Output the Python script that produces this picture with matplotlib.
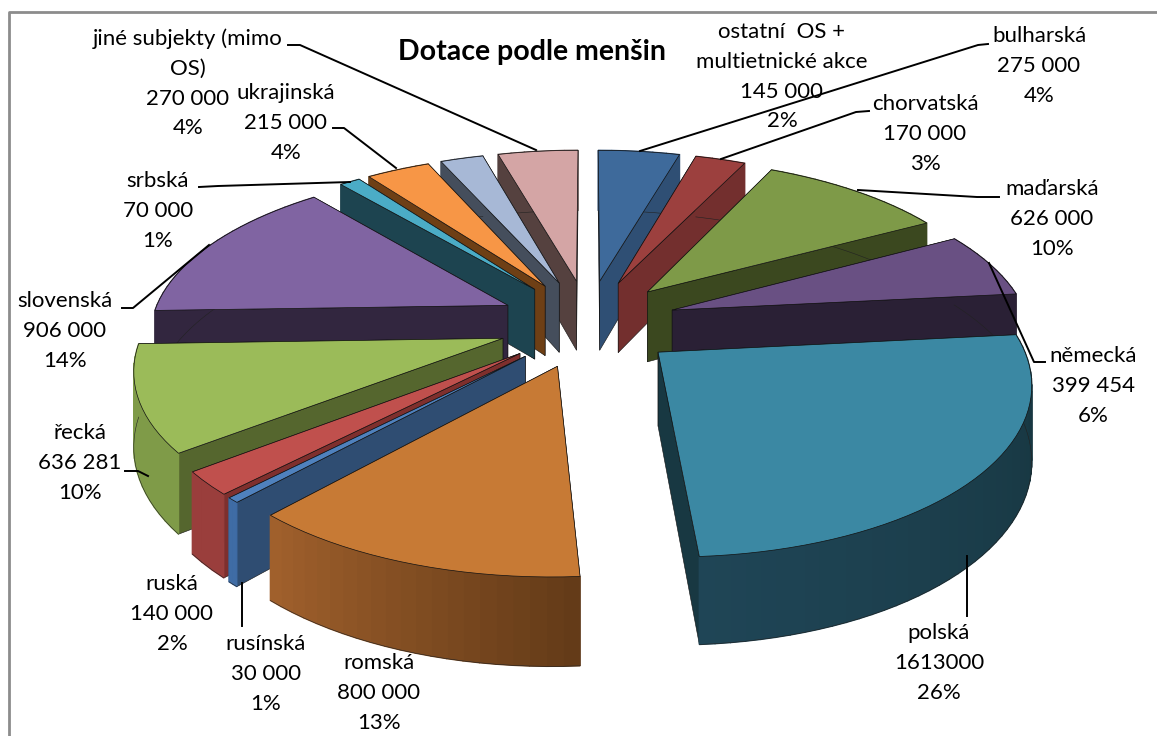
import numpy as np
import matplotlib
matplotlib.use('Agg')
import matplotlib.pyplot as plt
from matplotlib.colors import to_rgb
from matplotlib.patches import Polygon

# data, clockwise from the top of the pie
names = ['bulharská', 'chorvatská', 'maďarská', 'německá', 'polská', 'romská',
         'rusínská', 'ruská', 'řecká', 'slovenská', 'srbská', 'ukrajinská',
         'ostatní  OS +\nmultietnické akce', 'jiné subjekty (mimo\nOS)']
values = [275000, 170000, 626000, 399454, 1613000, 800000, 30000, 140000,
          636281, 906000, 70000, 215000, 145000, 270000]
amounts = ['275 000', '170 000', '626 000', '399 454', '1613000', '800 000', '30 000',
           '140 000', '636 281', '906 000', '70 000', '215 000', '145 000', '270 000']
percents = ['4%', '3%', '10%', '6%', '26%', '13%', '1%', '2%', '10%', '14%', '1%',
            '4%', '2%', '4%']

# colours: top face, radial wall, outer wall at start and end of the arc
top_cols = ['#3e6a9b', '#9c403e', '#7e9a48', '#695083', '#3b88a3', '#c77a35', '#4f81bd',
            '#c0504d', '#9bbb59', '#8064a2', '#4bacc6', '#f79646', '#a7b8d6', '#d4a5a5']
side_cols = ['#2f4f74', '#732f2e', '#3b481f', '#2a2035', '#183842', '#643b18', '#2f4d72',
             '#7e2f2d', '#55662e', '#32263f', '#1d4450', '#6e3f15', '#454e5c', '#55413f']
arc_start = ['#2f4f74', '#732f2e', '#3b481f', '#2a2035', '#16343d', '#643b18', '#3f6ca5',
             '#9a3e3c', '#7f9b48', '#32263f', '#1d4450', '#6e3f15', '#454e5c', '#55413f']
arc_end = ['#2f4f74', '#732f2e', '#3b481f', '#2a2035', '#1f4556', '#a0602c', '#3f6ca5',
           '#9a3e3c', '#7f9b48', '#32263f', '#1d4450', '#6e3f15', '#454e5c', '#55413f']

# label centre x, y of first line
label_x = [1039, 925, 1052, 1093, 939, 379, 266, 172, 80, 65, 158, 286, 782, 188]
label_y = [36, 104, 189, 356, 633, 663, 644, 584, 433, 301, 181, 93, 32, 39]

# leader lines
leaders = [[(988, 44), (978, 45), (640, 151)],
           [(869, 111), (856, 112), (721, 159)],
           [(999, 197), (977, 197), (858, 190)],
           [(1045, 362), (1034, 362), (989, 263)],
           [(967, 556), (967, 616)],
           [(242, 583), (242, 626)],
           [(125, 471), (138, 471), (148, 476)],
           [(122, 308), (133, 308), (209, 245)],
           [(199, 187), (218, 186), (350, 182)],
           [(333, 128), (344, 128), (396, 168)],
           [(288, 45), (300, 45), (536, 150)]]

# perspective of the pie
CX, CY = 588, 323
FX, FY, FZ = 357, 163, 72
K = 0.155
EXPLODE_X = 0.25
EXPLODE_Y = 0.27

FONT = 'Lato'


def project(x, y, z):
    w = 1 + K * y
    return np.column_stack((CX + FX * x / w, CY - (FY * y + FZ * z) / w))


def draw_slice(ax, a0, a1, i, zo):
    mid = (a0 + a1) / 2
    ox, oy = EXPLODE_X * np.sin(mid), EXPLODE_Y * np.cos(mid)
    t = np.linspace(a0, a1, max(3, int(np.degrees(a1 - a0) / 2)))
    x, y = ox + np.sin(t), oy + np.cos(t)
    n = len(t)
    apex_top = project(ox, oy, 0)
    apex_bot = project(ox, oy, -1)
    top = project(x, y, np.zeros(n))
    bot = project(x, y, -np.ones(n))

    # radial walls, the one further back first
    ends = (0, -1) if y[0] > y[-1] else (-1, 0)
    for k in ends:
        pts = np.vstack((apex_top, top[k], bot[k], apex_bot))
        ax.add_patch(Polygon(pts, fc=side_cols[i], ec='#111111', lw=0.4, zorder=zo))
        zo += 0.01

    # outer wall, shaded along the arc
    c0, c1 = np.array(to_rgb(arc_start[i])), np.array(to_rgb(arc_end[i]))
    for k in range(n - 1):
        col = c0 + (c1 - c0) * k / max(1, n - 2)
        pts = np.vstack((top[k], top[k + 1], bot[k + 1], bot[k]))
        ax.add_patch(Polygon(pts, fc=col, ec=col, lw=1.0, zorder=zo + 0.1))
    ax.plot(bot[:, 0], bot[:, 1], color='#222222', lw=0.4, zorder=zo + 0.2)

    # top face
    pts = np.vstack((apex_top, top))
    ax.add_patch(Polygon(pts, fc=top_cols[i], ec='#111111', lw=0.5, zorder=zo + 0.3))


def main():
    fig = plt.figure(figsize=(11.57, 7.36), dpi=100)
    ax = fig.add_axes([0, 0, 1, 1])
    ax.set_xlim(0, 1157)
    ax.set_ylim(736, 0)
    ax.axis('off')

    # chart frame
    ax.plot([9, 9, 1157], [736, 12, 12], color='#8c8c8c', lw=2)

    vals = np.array(values, dtype=float)
    edges = np.concatenate(([0], np.cumsum(vals))) / vals.sum() * 2 * np.pi
    mids = (edges[:-1] + edges[1:]) / 2
    # back slices first
    for zo, i in enumerate(np.argsort(-np.cos(mids))):
        draw_slice(ax, edges[i], edges[i + 1], i, zo + 2)

    for line in leaders:
        xs, ys = zip(*line)
        ax.plot(xs, ys, color='black', lw=1.4, zorder=30)

    ax.text(532, 52, 'Dotace podle menšin', family=FONT, fontsize=20.5, fontweight='bold',
            ha='center', va='center', color='black', zorder=31)

    for i, name in enumerate(names):
        rows = name.split('\n') + [amounts[i], percents[i]]
        for j, row in enumerate(rows):
            ax.text(label_x[i], label_y[i] + j * 29.8, row, family=FONT, fontsize=16,
                    ha='center', va='center', color='black', zorder=31)

    fig.savefig('out.png', dpi=100)


if __name__ == '__main__':
    main()
